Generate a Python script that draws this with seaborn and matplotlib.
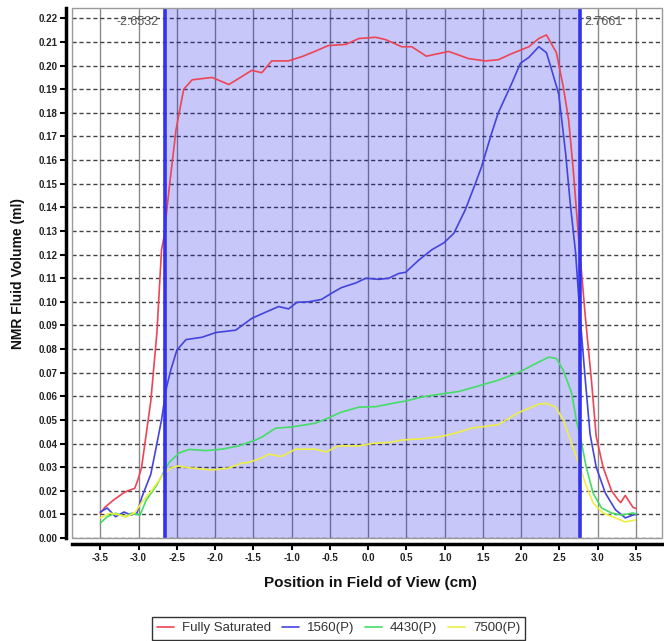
import numpy as np
import pandas as pd
import matplotlib
matplotlib.use("Agg")
import matplotlib.pyplot as plt
import seaborn as sns
from matplotlib.patches import Rectangle
from matplotlib.lines import Line2D

sns.set_theme(style="white")
plt.rcParams["font.family"] = ["Liberation Sans", "DejaVu Sans"]
plt.rcParams["axes.unicode_minus"] = False

# ---------------- data ----------------
series_names = ["Fully Saturated", "1560(P)", "4430(P)", "7500(P)"]

sat_x = [-3.50, -3.44, -3.33, -3.20, -3.14, -3.05, -3.01, -2.96, -2.84, -2.76, -2.70, -2.67, -2.60,
         -2.51, -2.41, -2.30, -2.04, -1.82, -1.52, -1.39, -1.26, -1.04, -0.85, -0.70, -0.52, -0.29,
         -0.12, 0.10, 0.23, 0.44, 0.57, 0.76, 1.05, 1.14, 1.31, 1.53, 1.70, 1.87, 2.10, 2.23, 2.33,
         2.46, 2.55, 2.62, 2.68, 2.75, 2.84, 2.92, 2.98, 3.07, 3.18, 3.27, 3.30, 3.36, 3.46, 3.50]
sat_y = [0.0105, 0.013, 0.016, 0.019, 0.020, 0.021, 0.0245, 0.030, 0.058, 0.087, 0.122, 0.127, 0.148,
         0.173, 0.190, 0.194, 0.195, 0.192, 0.198, 0.197, 0.202, 0.202, 0.204, 0.206, 0.2085, 0.209,
         0.2115, 0.212, 0.211, 0.208, 0.208, 0.204, 0.206, 0.205, 0.203, 0.202, 0.2025, 0.205, 0.208,
         0.2115, 0.213, 0.2055, 0.191, 0.177, 0.156, 0.127, 0.093, 0.066, 0.043, 0.030, 0.020, 0.016,
         0.015, 0.018, 0.013, 0.0125]

p1560_x = [-3.50, -3.41, -3.30, -3.19, -3.10, -3.02, -2.96, -2.84, -2.76, -2.70, -2.64, -2.58, -2.50,
           -2.38, -2.17, -1.99, -1.73, -1.52, -1.34, -1.17, -1.04, -0.93, -0.78, -0.61, -0.48, -0.35,
           -0.16, -0.03, 0.14, 0.27, 0.40, 0.49, 0.66, 0.83, 0.99, 1.12, 1.27, 1.40, 1.48, 1.61, 1.70,
           1.87, 1.99, 2.10, 2.23, 2.33, 2.40, 2.49, 2.58, 2.64, 2.71, 2.77, 2.84, 2.90, 2.98, 3.10,
           3.23, 3.36, 3.46, 3.50]
p1560_y = [0.011, 0.0127, 0.009, 0.011, 0.0097, 0.0106, 0.017, 0.027, 0.040, 0.050, 0.063, 0.071,
           0.0795, 0.084, 0.085, 0.087, 0.088, 0.093, 0.0956, 0.098, 0.097, 0.0998, 0.100, 0.101,
           0.1036, 0.106, 0.108, 0.110, 0.1095, 0.110, 0.112, 0.1125, 0.1176, 0.122, 0.125, 0.129,
           0.139, 0.150, 0.157, 0.171, 0.180, 0.192, 0.201, 0.2035, 0.208, 0.2055, 0.198, 0.188,
           0.163, 0.142, 0.121, 0.0935, 0.066, 0.044, 0.030, 0.019, 0.012, 0.0085, 0.0097, 0.0100]

p4430_x = [-3.50, -3.41, -3.30, -3.17, -3.09, -2.98, -2.90, -2.77, -2.66, -2.60, -2.47, -2.34, -2.12,
           -1.91, -1.69, -1.47, -1.39, -1.21, -1.00, -0.69, -0.52, -0.35, -0.12, 0.10, 0.27, 0.49,
           0.70, 0.96, 1.18, 1.40, 1.70, 1.96, 2.23, 2.36, 2.46, 2.55, 2.66, 2.72, 2.79, 2.85, 2.94,
           3.05, 3.18, 3.31, 3.46, 3.50]
p4430_y = [0.0063, 0.009, 0.0105, 0.009, 0.0105, 0.0097, 0.016, 0.022, 0.0285, 0.032, 0.036, 0.0375,
           0.037, 0.0376, 0.039, 0.0415, 0.0427, 0.0465, 0.047, 0.0486, 0.0508, 0.0533, 0.0554,
           0.0556, 0.0567, 0.058, 0.0597, 0.061, 0.062, 0.064, 0.0668, 0.070, 0.0745, 0.0766, 0.076,
           0.071, 0.0613, 0.050, 0.040, 0.030, 0.019, 0.0127, 0.0106, 0.0097, 0.0106, 0.0102]

p7500_x = [-3.50, -3.37, -3.24, -3.16, -3.05, -2.96, -2.83, -2.70, -2.58, -2.48, -2.31, -2.04, -1.82,
           -1.65, -1.56, -1.38, -1.30, -1.13, -0.95, -0.69, -0.55, -0.39, -0.12, 0.05, 0.31, 0.44,
           0.70, 0.96, 1.14, 1.35, 1.70, 1.96, 2.23, 2.33, 2.45, 2.55, 2.66, 2.75, 2.84, 2.94, 3.07,
           3.23, 3.36, 3.49]
p7500_y = [0.0085, 0.0105, 0.0097, 0.009, 0.0106, 0.015, 0.020, 0.026, 0.0296, 0.0305, 0.0296,
           0.0288, 0.0296, 0.0317, 0.032, 0.034, 0.0355, 0.0345, 0.0376, 0.0376, 0.0364, 0.039,
           0.039, 0.040, 0.0406, 0.0415, 0.042, 0.043, 0.0444, 0.0465, 0.048, 0.053, 0.0567, 0.057,
           0.0554, 0.050, 0.040, 0.0317, 0.023, 0.0148, 0.0106, 0.0085, 0.0068, 0.0076]

left_cut = -2.6532
right_cut = 2.7661
x_ticks = [-3.5, -3.0, -2.5, -2.0, -1.5, -1.0, -0.5, 0.0, 0.5, 1.0, 1.5, 2.0, 2.5, 3.0, 3.5]
y_ticks = [i / 100 for i in range(23)]

colors = ["#ee4455", "#4444dd", "#44dd66", "#eeee44"]

# ---------------- frame ----------------
xs = [sat_x, p1560_x, p4430_x, p7500_x]
ys = [sat_y, p1560_y, p4430_y, p7500_y]
df = pd.concat([pd.DataFrame({"pos": x, "vol": y, "series": n})
                for x, y, n in zip(xs, ys, series_names)], ignore_index=True)
palette = dict(zip(series_names, colors))

fig = plt.figure(figsize=(6.64, 6.41), dpi=100)
ax = fig.add_axes([0.1084, 0.1607, 0.8886, 0.8268])
ax.set_facecolor("white")

ax.set_xlim(-3.87, 3.84)
ax.set_ylim(0, 0.2244)

ax.xaxis.grid(True, color="#8a8a8a", lw=1.0, ls="-")
ax.yaxis.grid(True, color="#444444", lw=1.0, ls=(0, (3, 2)))
ax.set_axisbelow(True)

ax.axvspan(left_cut, right_cut, color="#0000e6", alpha=0.22, lw=0, zorder=1)

sns.lineplot(data=df, x="pos", y="vol", hue="series", palette=palette, estimator=None,
             sort=False, lw=1.2, ax=ax, legend=False, zorder=2)

ax.axvline(left_cut, color="#3333ee", lw=2.6, zorder=3)
ax.axvline(right_cut, color="#3333ee", lw=2.6, zorder=3)
ax.text(left_cut - 0.08, 0.2183, f"{left_cut:.4f}", ha="right", va="center", fontsize=9, color="#555555")
ax.text(right_cut + 0.06, 0.2183, f"{right_cut:.4f}", ha="left", va="center", fontsize=9, color="#555555")

ax.set_xticks(x_ticks, labels=[f"{v:.1f}" for v in x_ticks])
ax.set_yticks(y_ticks, labels=[f"{v:.2f}" for v in y_ticks])
ax.tick_params(axis="both", direction="out", length=4, width=1.5, color="black", pad=2,
               bottom=True, left=True, labelcolor="#222222", labelsize=7)

for s in ["top", "right"]:
    ax.spines[s].set_visible(False)
for s in ["left", "bottom"]:
    ax.spines[s].set_visible(True)
    ax.spines[s].set_position(("outward", 4.5))
    ax.spines[s].set_linewidth(2.5)
    ax.spines[s].set_color("black")

ax.add_patch(Rectangle((0, 0), 1, 1, transform=ax.transAxes, fill=False,
                       ec="#9a9a9a", lw=1.0, zorder=4, clip_on=False))

ax.set_xlabel("Position in Field of View (cm)", fontsize=11, fontweight="bold", color="#111111")
ax.set_ylabel("NMR Fluid Volume (ml)", fontsize=10, fontweight="bold", color="#111111")
ax.xaxis.set_label_coords(0.505, -0.072)
ax.yaxis.set_label_coords(-0.08, 0.5)

handles = [Line2D([], [], color=c, lw=1.2) for c in colors]
leg = fig.legend(handles, series_names, loc="upper center", bbox_to_anchor=(0.51, 0.048),
                 ncol=4, frameon=True, fancybox=False, edgecolor="black", fontsize=9.5,
                 handlelength=1.3, columnspacing=0.8, handletextpad=0.6, borderpad=0.4)
leg.get_frame().set_linewidth(1.0)
for t in leg.get_texts():
    t.set_color("#333333")

fig.canvas.draw()
for lab in ax.get_xticklabels() + ax.get_yticklabels():
    lab.set_fontweight("bold")
    lab.set_fontsize(7)

fig.savefig("out.png", dpi=100)
